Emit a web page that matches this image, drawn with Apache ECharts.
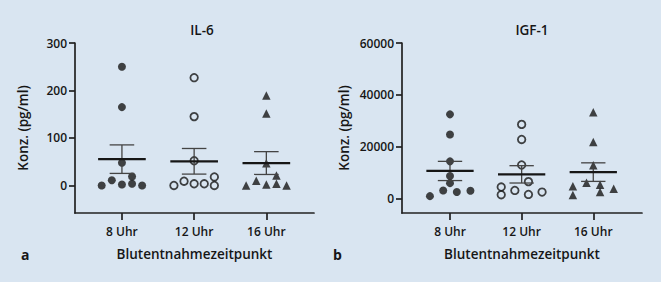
<!DOCTYPE html>
<html>
<head>
<meta charset="utf-8">
<script src="https://cdn.jsdelivr.net/npm/echarts@6/dist/echarts.min.js"></script>
<style>
    html, body { margin: 0; padding: 0; background: #d9e5f1; }
    #main { width: 661px; height: 282px; }
</style>
</head>
<body>
<div id="main"></div>
<script>
var categories = ['8 Uhr', '12 Uhr', '16 Uhr'];

// IL-6 (pg/ml), je Blutentnahmezeitpunkt
var il6_8 = [250, 165, 48, 19, 11, 0, 2, 3.5, 0];
var il6_12 = [227, 145, 52, 18, 9, 0, 3.5, 3.5, 0];
var il6_16 = [189.5, 151.6, 47, 21, 10, 0, 2, 3.5, 0];

// IGF-1 (pg/ml)
var igf_8 = [32500, 24770, 14400, 8750, 6000, 3200, 1000, 2560, 3100];
var igf_12 = [28640, 22830, 13000, 6580, 4500, 1550, 3200, 1660, 2560];
var igf_16 = [33280, 21900, 12890, 6190, 5420, 4760, 1400, 2560, 3870];

// seitlicher Versatz der Punkte (in Kategorie-Einheiten)
var il6Jitter = [
    [0, 0, 0, 0.14, -0.14, -0.28, 0, 0.14, 0.28],
    [0, 0, 0, 0.28, -0.14, -0.28, 0, 0.14, 0.28],
    [0, 0, 0, 0.14, -0.14, -0.28, 0, 0.14, 0.28]
];
var igfJitter = [
    [0, 0, 0, 0, 0, -0.095, -0.28, 0.095, 0.285],
    [0, 0, 0, 0.095, -0.285, -0.285, -0.095, 0.095, 0.285],
    [0, 0, 0, -0.095, 0.095, -0.285, -0.285, 0.095, 0.285]
];

var il6Ticks = [0, 100, 200, 300];
var igfTicks = [0, 20000, 40000, 60000];

(function () {
    var chart = echarts.init(document.getElementById('main'), null, {renderer: 'svg'});
    var font = "'Open Sans', sans-serif";
    var ink = '#161616';
    var symbols = [
        {symbol: 'circle', size: 8, style: {color: '#161616'}},
        {symbol: 'circle', size: 7.5, style: {color: 'rgba(0,0,0,0)', borderColor: '#161616', borderWidth: 1.8}},
        {symbol: 'triangle', size: 8.5, style: {color: '#161616'}}
    ];

    function stats(arr) {
        var n = arr.length, sum = 0, sq = 0;
        arr.forEach(function (v) { sum += v; });
        var mean = sum / n;
        arr.forEach(function (v) { sq += (v - mean) * (v - mean); });
        var sem = Math.sqrt(sq / (n - 1)) / Math.sqrt(n);
        return [mean, mean - sem, mean + sem];
    }

    function renderBars(params, api) {
        var x = api.value(0), m = api.value(1), lo = api.value(2), hi = api.value(3);
        var a = api.coord([x - 0.33, m]), b = api.coord([x + 0.33, m]);
        var l = api.coord([x, lo]), h = api.coord([x, hi]);
        var cl1 = api.coord([x - 0.17, lo]), cl2 = api.coord([x + 0.17, lo]);
        var ch1 = api.coord([x - 0.17, hi]), ch2 = api.coord([x + 0.17, hi]);
        var thin = {stroke: '#444', lineWidth: 1.3};
        return {
            type: 'group',
            children: [
                {type: 'line', shape: {x1: l[0], y1: l[1], x2: h[0], y2: h[1]}, style: thin},
                {type: 'line', shape: {x1: cl1[0], y1: cl1[1], x2: cl2[0], y2: cl2[1]}, style: thin},
                {type: 'line', shape: {x1: ch1[0], y1: ch1[1], x2: ch2[0], y2: ch2[1]}, style: thin},
                {type: 'line', shape: {x1: a[0], y1: a[1], x2: b[0], y2: b[1]}, style: {stroke: '#161616', lineWidth: 2.2}}
            ]
        };
    }

    function panelSeries(idx, groups, jitter) {
        var out = [];
        var bars = [];
        groups.forEach(function (vals, c) {
            out.push({
                type: 'scatter',
                xAxisIndex: idx,
                yAxisIndex: idx,
                symbol: symbols[c].symbol,
                symbolSize: symbols[c].size,
                itemStyle: symbols[c].style,
                data: vals.map(function (v, i) { return [c + 1 + jitter[c][i], v]; })
            });
            var s = stats(vals);
            bars.push([c + 1, s[0], s[1], s[2]]);
        });
        out.push({
            type: 'custom',
            xAxisIndex: idx,
            yAxisIndex: idx,
            renderItem: renderBars,
            data: bars,
            z: 5
        });
        return out;
    }

    function xAxis(idx, min, max) {
        return {
            gridIndex: idx,
            type: 'value',
            min: min,
            max: max,
            axisLine: {show: true, onZero: false, lineStyle: {color: '#222', width: 1.7}},
            axisTick: {show: true, customValues: [1, 2, 3], length: 7, lineStyle: {color: '#222', width: 1.7}},
            axisLabel: {
                customValues: [1, 2, 3], margin: 12,
                fontFamily: font, fontSize: 12, fontWeight: 600, color: ink,
                formatter: function (v) { return categories[Math.round(v) - 1]; }
            },
            splitLine: {show: false},
            name: 'Blutentnahmezeitpunkt',
            nameLocation: 'middle',
            nameGap: 34,
            nameTextStyle: {fontFamily: font, fontSize: 13.5, fontWeight: 600, color: ink}
        };
    }

    function yAxis(idx, min, max, ticks, gap) {
        return {
            gridIndex: idx,
            type: 'value',
            min: min,
            max: max,
            axisLine: {show: true, onZero: false, lineStyle: {color: '#222', width: 1.7}},
            axisTick: {show: true, customValues: ticks, length: 6, lineStyle: {color: '#222', width: 1.7}},
            axisLabel: {
                customValues: ticks, margin: 8,
                fontFamily: font, fontSize: 12, fontWeight: 600, color: ink,
                formatter: function (v) { return String(v); }
            },
            splitLine: {show: false},
            name: 'Konz. (pg/ml)',
            nameLocation: 'middle',
            nameRotate: 90,
            nameGap: gap,
            nameTextStyle: {fontFamily: font, fontSize: 13.5, fontWeight: 600, color: ink}
        };
    }

    var option = {
        backgroundColor: '#d9e5f1',
        animation: false,
        title: [
            {text: 'IL-6', left: 197, top: 18, textAlign: 'center',
                textStyle: {fontFamily: font, fontSize: 13.5, fontWeight: 600, color: ink}},
            {text: 'IGF-1', left: 527, top: 18, textAlign: 'center',
                textStyle: {fontFamily: font, fontSize: 13.5, fontWeight: 600, color: ink}}
        ],
        graphic: [
            {type: 'text', left: 21, top: 247, style: {text: 'a', font: "bold 14px 'Open Sans', sans-serif", fill: ink}},
            {type: 'text', left: 333, top: 247, style: {text: 'b', font: "bold 14px 'Open Sans', sans-serif", fill: ink}}
        ],
        grid: [
            {left: 75, top: 43, width: 239, height: 170},
            {left: 402, top: 43, width: 240, height: 170}
        ],
        xAxis: [xAxis(0, 0.35, 3.66), xAxis(1, 0.33, 3.68)],
        yAxis: [yAxis(0, -58, 300, il6Ticks, 45), yAxis(1, -5500, 60000, igfTicks, 51)],
        series: panelSeries(0, [il6_8, il6_12, il6_16], il6Jitter)
            .concat(panelSeries(1, [igf_8, igf_12, igf_16], igfJitter))
    };
    chart.setOption(option);

    window.addEventListener('resize', function () {
        chart.resize();
    });
}());
</script>
</body>
</html>
